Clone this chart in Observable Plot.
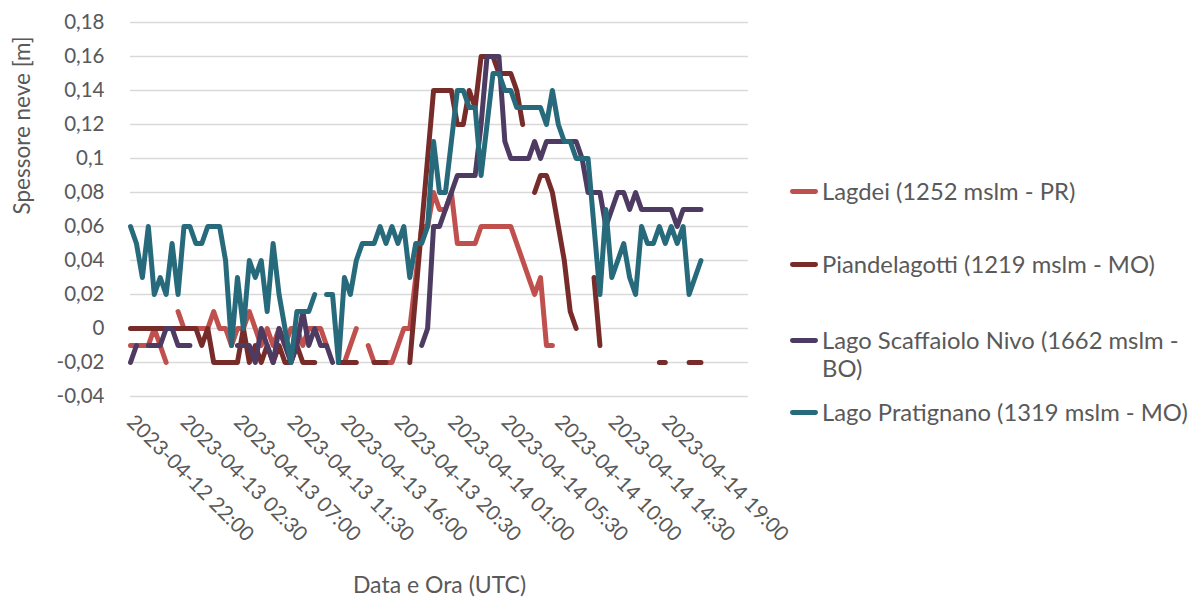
<!DOCTYPE html>
<html>
<head>
<meta charset="utf-8">
<script src="https://cdn.jsdelivr.net/npm/d3@7"></script>
<script src="https://cdn.jsdelivr.net/npm/@observablehq/plot@0.6"></script>
<style>
  html, body { margin: 0; padding: 0; background: #ffffff; }
  #wrap { position: relative; width: 1195px; height: 607px; font-family: Lato, sans-serif; color: #595959; }
  #legend { position: absolute; left: 0; top: 0; }
  .item { position: absolute; left: 790px; display: flex; align-items: flex-start; }
  .sw { width: 28px; height: 4.8px; border-radius: 2.4px; margin-top: 12px; flex: none; }
  .lab { margin-left: 4px; width: 370px; font-size: 23.8px; line-height: 28px; }
</style>
</head>
<body>
<div id="wrap"><div id="chart"></div><div id="legend"></div></div>
<script>
// ---- categories (x) ----
const startTime = "2023-04-12T22:00:00Z";
const stepMinutes = 30;
const domainEnd = "2023-04-15T02:00:00Z";
const tickLabels = ["2023-04-12 22:00","2023-04-13 02:30","2023-04-13 07:00","2023-04-13 11:30","2023-04-13 16:00","2023-04-13 20:30","2023-04-14 01:00","2023-04-14 05:30","2023-04-14 10:00","2023-04-14 14:30","2023-04-14 19:00"];

// ---- y ticks ----
const yTicks = [0.18,0.16,0.14,0.12,0.10,0.08,0.06,0.04,0.02,0,-0.02,-0.04];
const yTickLabels = ["0,18","0,16","0,14","0,12","0,1","0,08","0,06","0,04","0,02","0","-0,02","-0,04"];

// ---- titles ----
const xTitle = "Data e Ora (UTC)";
const yTitle = "Spessore neve [m]";

// ---- series ----
const seriesNames = ["Lagdei (1252 mslm - PR)","Piandelagotti (1219 mslm - MO)","Lago Scaffaiolo Nivo (1662 mslm - BO)","Lago Pratignano (1319 mslm - MO)"];
const seriesColors = ["#C0504D","#772C2A","#4E3B62","#276A7C"];

const lagdei = [
-0.01,-0.01,-0.01,-0.01,0.00,-0.01,-0.02,null,0.01,0.00,
0.00,0.00,0.00,0.00,0.01,0.00,0.00,-0.01,0.00,0.00,
0.01,0.00,-0.01,0.00,-0.01,0.00,-0.01,0.00,0.00,-0.01,
0.00,0.00,0.00,-0.01,null,null,-0.02,-0.01,0.00,null,
-0.01,-0.02,-0.02,-0.02,-0.02,-0.01,0.00,0.00,0.03,0.06,
0.06,0.08,0.07,0.07,0.08,0.05,0.05,0.05,0.05,0.06,
0.06,0.06,0.06,0.06,0.06,0.05,0.04,0.03,0.02,0.03,
-0.01,-0.01,null,null,null,null,null,null,null,null,
null,null,null,null,null,null,null,null,null,null,
null,null,null,null,null,null,null];

const piandelagotti = [
0,0,0,0,0,0,0,0,0,0,
0,0,-0.01,0.00,-0.02,-0.02,-0.02,-0.02,-0.02,0.00,
-0.02,-0.01,-0.02,-0.01,-0.02,-0.01,-0.02,-0.02,-0.01,-0.02,
-0.02,-0.02,null,null,null,-0.02,-0.02,-0.02,-0.02,null,
null,-0.02,-0.02,-0.02,null,null,null,-0.02,0.02,0.06,
0.10,0.14,0.14,0.14,0.14,0.12,0.12,0.14,0.13,0.16,
0.16,0.16,0.15,0.15,0.15,0.14,0.12,null,0.08,0.09,
0.09,0.08,0.06,0.04,0.01,0.00,null,null,0.03,-0.01,
null,null,null,null,null,null,null,null,null,-0.02,
-0.02,null,null,null,-0.02,-0.02,-0.02];

const scaffaiolo = [
-0.02,-0.01,null,-0.01,-0.01,-0.01,0.00,0.00,-0.01,-0.01,
-0.01,null,null,null,null,null,null,null,-0.01,-0.01,
-0.01,-0.02,0.00,-0.01,-0.02,0.00,-0.01,-0.02,-0.01,0.01,
-0.01,0.00,-0.01,-0.01,-0.02,null,null,null,null,null,
null,null,null,null,null,null,null,null,null,-0.01,
0.00,0.06,0.06,0.07,0.08,0.09,0.09,0.09,0.09,0.12,
0.16,0.16,0.16,0.11,0.10,0.10,0.10,0.10,0.11,0.10,
0.11,0.11,0.11,0.11,0.11,0.11,0.10,0.08,0.08,0.08,
0.06,0.07,0.08,0.08,0.07,0.08,0.07,0.07,0.07,0.07,
0.07,0.07,0.06,0.07,0.07,0.07,0.07];

const pratignano = [
0.06,0.05,0.03,0.06,0.02,0.03,0.02,0.05,0.02,0.06,
0.06,0.05,0.05,0.06,0.06,0.06,0.04,-0.01,0.03,0.00,
0.04,0.03,0.04,0.01,0.05,0.02,0.00,-0.02,0.01,0.01,
0.01,0.02,null,0.02,0.02,-0.02,0.03,0.02,0.04,0.05,
0.05,0.05,0.06,0.05,0.06,0.05,0.06,0.03,0.05,0.05,
0.06,0.11,0.08,0.08,0.11,0.14,0.14,0.13,0.13,0.09,
0.12,0.15,0.15,0.14,0.14,0.13,0.13,0.13,0.13,0.13,
0.12,0.14,0.12,0.11,0.11,0.10,0.10,0.10,0.06,0.02,
0.07,0.03,0.04,0.05,0.03,0.02,0.06,0.05,0.05,0.06,
0.05,0.06,0.05,0.06,0.02,0.03,0.04];

const allSeries = [lagdei, piandelagotti, scaffaiolo, pratignano];

// ---- build table ----
const t0 = new Date(startTime).getTime();
const timeAt = i => new Date(t0 + i * stepMinutes * 60000);
const rows = allSeries.map((arr, s) => arr.map((v, i) => ({t: timeAt(i), v, s: seriesNames[s]})));

const tickDates = tickLabels.map(l => new Date(l.replace(" ", "T") + ":00Z"));
const xFmt = d => { const k = tickDates.findIndex(x => +x === +d); return k >= 0 ? tickLabels[k] : ""; };
const yFmt = d => { const k = yTicks.indexOf(d); return k >= 0 ? yTickLabels[k] : ""; };

const W = 1195, H = 607;
const chart = Plot.plot({
  width: W, height: H,
  marginLeft: 130, marginRight: 447, marginTop: 22, marginBottom: 211,
  style: {fontFamily: "Lato, sans-serif", fontSize: "20px", color: "#595959", background: "transparent", overflow: "visible"},
  x: {type: "utc", domain: [new Date(startTime), new Date(domainEnd)]},
  y: {domain: [-0.04, 0.18]},
  marks: [
    Plot.gridY(yTicks, {stroke: "#D9D9D9", strokeOpacity: 1, strokeWidth: 1.3}),
    Plot.axisY(yTicks, {tickSize: 0, tickPadding: 26, tickFormat: yFmt, fill: "#595959", fontSize: 20.5, label: null}),
    Plot.axisX(tickDates, {tickSize: 0, tickPadding: 22, tickRotate: 45, tickFormat: xFmt, fill: "#595959", fontSize: 20.6, label: null}),
    Plot.text([yTitle], {frameAnchor: "left", rotate: -90, dx: -108, dy: 5, fontSize: 22.5, fill: "#595959"}),
    Plot.text([xTitle], {frameAnchor: "bottom", dy: 196, fontSize: 23, fill: "#595959"}),
    ...rows.map((r, s) => Plot.line(r, {x: "t", y: "v", stroke: seriesColors[s], strokeWidth: 5,
      strokeLinejoin: "round", strokeLinecap: "round"}))
  ]
});
document.getElementById("chart").appendChild(chart);

// ---- legend ----
const legendTops = [177, 250, 326, 398];
const legend = document.getElementById("legend");
seriesNames.forEach((n, s) => {
  const it = document.createElement("div");
  it.className = "item";
  it.style.top = legendTops[s] + "px";
  it.innerHTML = `<div class="sw" style="background:${seriesColors[s]}"></div><div class="lab">${n}</div>`;
  legend.appendChild(it);
});
</script>
</body>
</html>
